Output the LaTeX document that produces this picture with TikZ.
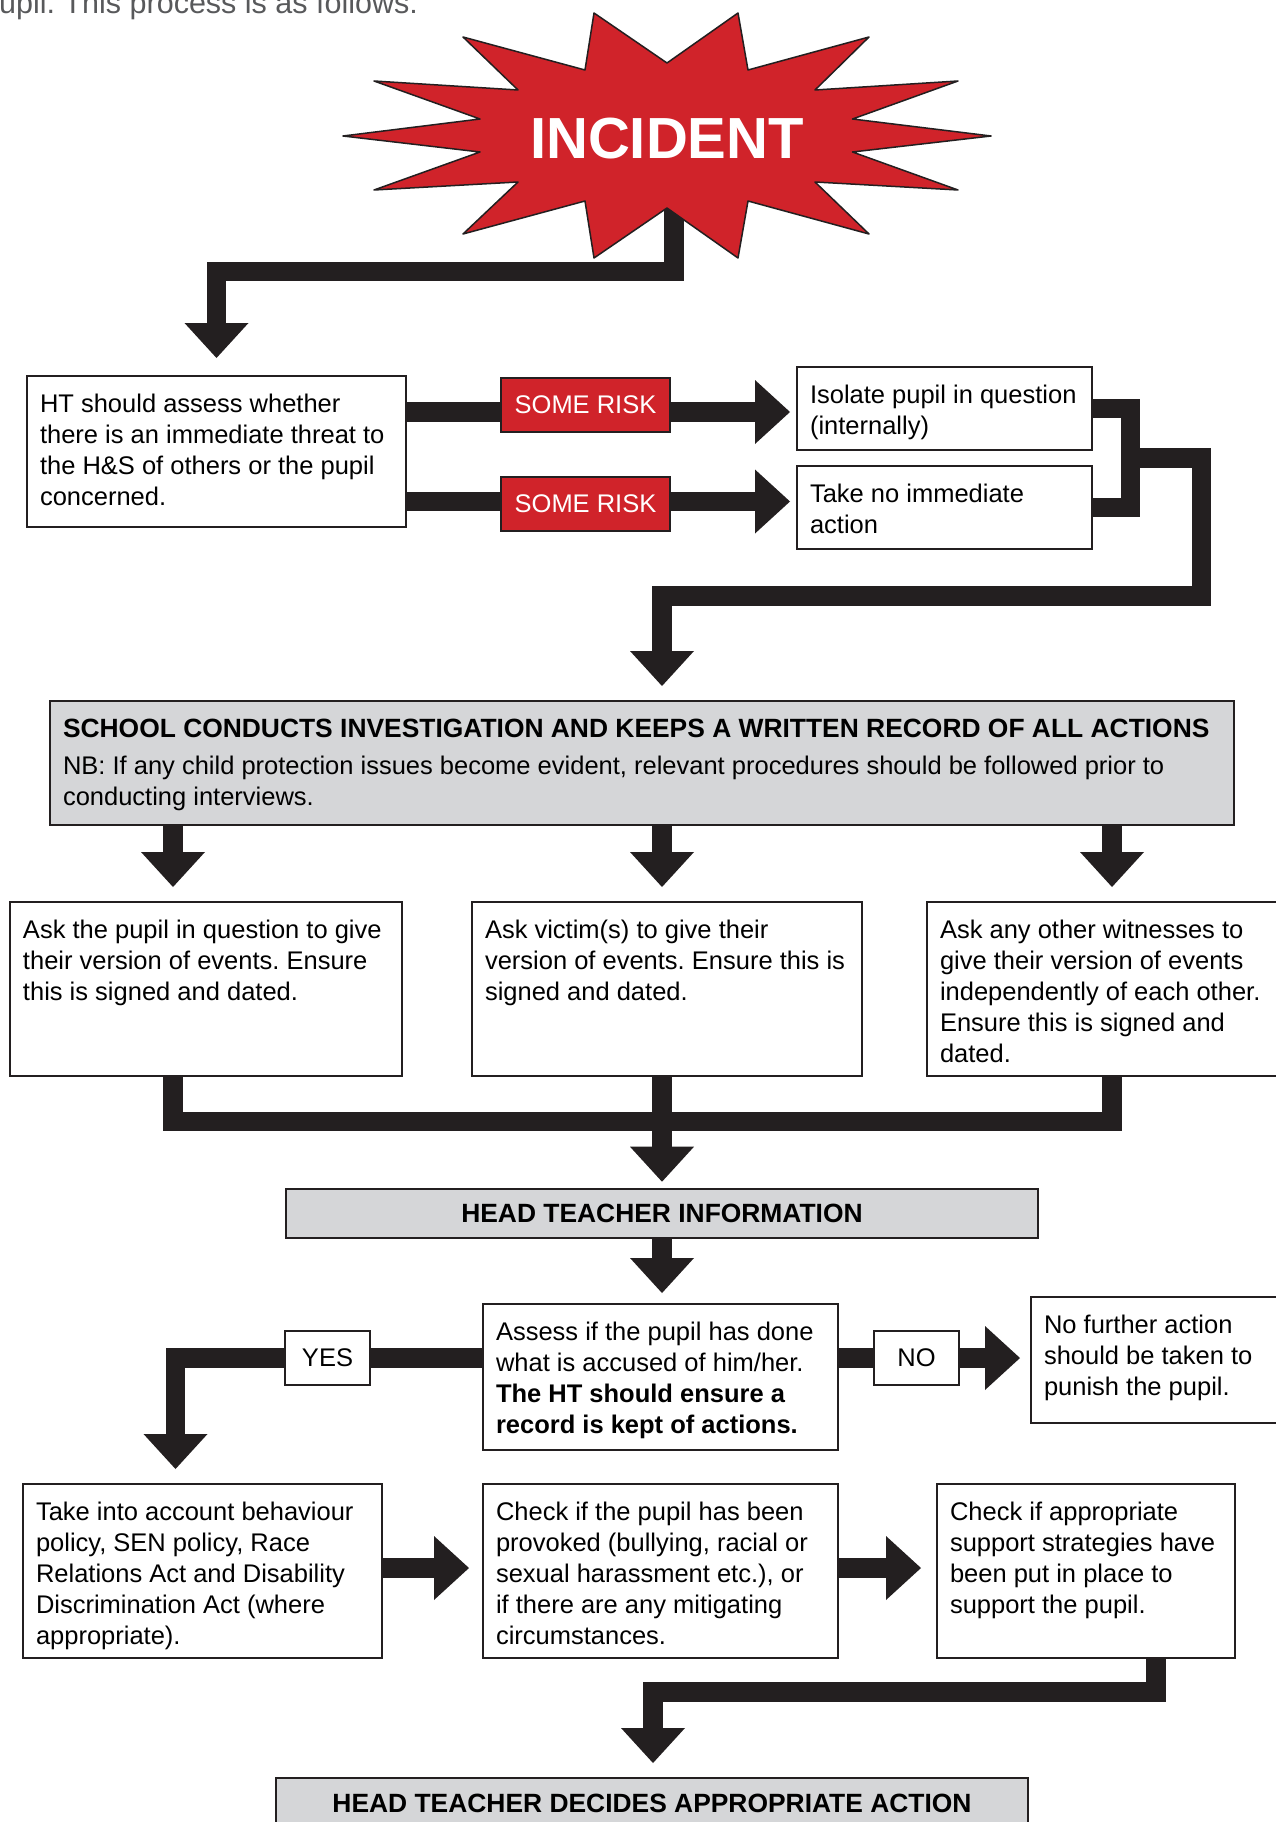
\documentclass[tikz,border=0pt]{standalone}
\usepackage{fontspec}
\setmainfont{Liberation Sans}
\usetikzlibrary{arrows.meta}
\definecolor{dark}{HTML}{231F20}
\definecolor{starred}{HTML}{D0232A}
\definecolor{boxgray}{HTML}{D5D6D8}
\definecolor{txtgray}{HTML}{58595B}
\frenchspacing
\newcommand\bodyfont{\fontsize{25.5pt}{31pt}\selectfont}
\newcommand\headfont{\fontsize{26.4pt}{31pt}\selectfont\bfseries}
\newcommand\flowbox[7][]{%
  \node[bx,#1] (#2) at (#3,#4) {\parbox[t][\dimexpr #6pt-#4pt\relax][t]{\dimexpr #5pt-#3pt-26pt\relax}{\bodyfont\vspace*{14.3pt}\begin{tabular}[t]{@{}l@{}}#7\end{tabular}}};}
\begin{document}
\begin{tikzpicture}[x=1pt,y=-1pt,
  bx/.style={draw=dark, line width=2.4pt, fill=white, inner xsep=13pt, inner ysep=0pt, outer sep=0pt, anchor=north west},
  riskbox/.style={draw=dark, line width=2.4pt, fill=starred, text=white, minimum width=169pt, minimum height=54pt, inner sep=0pt, outer sep=0pt, font=\bodyfont},
  smallbox/.style={draw=dark, line width=2.4pt, fill=white, minimum width=85pt, minimum height=54pt, inner sep=0pt, outer sep=0pt, font=\bodyfont},
  graybox/.style={draw=dark, line width=2.4pt, fill=boxgray, minimum width=752pt, inner sep=0pt, outer sep=0pt, font=\headfont},
  bar/.style={draw=dark, line width=19.5pt, line join=miter},
  arr/.style={bar, -{Triangle[length=35pt,width=64pt,line width=0pt]}}]
\useasboundingbox (0,0) rectangle (1275,1822);

% intro text (cut off at the top, as in the source page)
\node[anchor=base west, text=txtgray, font=\fontsize{30.5pt}{36pt}\selectfont, inner sep=0pt] (intro) at (-1,14) {upil. This process is as follows:};

% boxes
\flowbox{ht}{27}{376}{406}{527}{HT should assess whether\\there is an immediate threat to\\the H\&S of others or the pupil\\concerned.}
\node[riskbox] (sr1) at (585.5,405) {SOME RISK};
\node[riskbox] (sr2) at (585.5,504) {SOME RISK};
\flowbox{iso}{797}{367}{1092}{450}{Isolate pupil in question\\(internally)}
\flowbox{take}{797}{466}{1092}{549}{Take no immediate\\action}
\flowbox[fill=boxgray]{school}{50}{701}{1234}{825}{{\headfont SCHOOL CONDUCTS INVESTIGATION AND KEEPS A WRITTEN RECORD OF ALL ACTIONS}\\[6pt]NB: If any child protection issues become evident, relevant procedures should be followed prior to\\conducting interviews.}
\flowbox{boxA}{10}{902}{402}{1076}{Ask the pupil in question to give\\their version of events. Ensure\\this is signed and dated.}
\flowbox{boxB}{472}{902}{862}{1076}{Ask victim(s) to give their\\version of events. Ensure this is\\signed and dated.}
\flowbox{boxC}{927}{902}{1290}{1076}{Ask any other witnesses to\\give their version of events\\independently of each other.\\Ensure this is signed and\\dated.}
\node[graybox, minimum height=49pt] (hti) at (662,1213.5) {HEAD TEACHER INFORMATION};
\flowbox{assess}{483}{1304}{838}{1450}{Assess if the pupil has done\\what is accused of him/her.\\\textbf{The HT should ensure a}\\\textbf{record is kept of actions.}}
\node[smallbox] (yes) at (327.5,1358) {YES};
\node[smallbox] (no) at (916.5,1358) {NO};
\flowbox{nf}{1031}{1297}{1290}{1423}{No further action\\should be taken to\\punish the pupil.}
\flowbox{boxD}{23}{1484}{382}{1658}{Take into account behaviour\\policy, SEN policy, Race\\Relations Act and Disability\\Discrimination Act (where\\appropriate).}
\flowbox{boxE}{483}{1484}{838}{1658}{Check if the pupil has been\\provoked (bullying, racial or\\sexual harassment etc.), or\\if there are any mitigating\\circumstances.}
\flowbox{boxF}{937}{1484}{1235}{1658}{Check if appropriate\\support strategies have\\been put in place to\\support the pupil.}
\node[graybox, minimum height=51pt] (htd) at (652,1803.5) {HEAD TEACHER DECIDES APPROPRIATE ACTION};

% helper coordinates
\coordinate (starbot) at (674,200);
\coordinate (j1) at (674,271.3);
\coordinate (ry1) at (0,412);
\coordinate (ry2) at (0,501.5);
\coordinate (brk) at (1130.7,457.8);
\coordinate (br2) at (1201.4,596.2);
\coordinate (xa) at (173,0);
\coordinate (xb) at (662,0);
\coordinate (xc) at (1112,0);
\coordinate (jy) at (0,1121.7);
\coordinate (xd) at (175.5,0);
\coordinate (yr) at (0,1568);
\coordinate (xf) at (1156,0);
\coordinate (kf) at (653,1692);

% connectors
\draw[arr, shorten >=18pt] (starbot) -- (j1) -| (ht.north);
\draw[bar] (ht.east |- ry1) -- (sr1.west |- ry1);
\draw[arr, shorten >=7pt] (sr1.east |- ry1) -- (iso.west |- ry1);
\draw[bar] (ht.east |- ry2) -- (sr2.west |- ry2);
\draw[arr, shorten >=7pt] (sr2.east |- ry2) -- (take.west |- ry2);
\draw[bar] (iso.east) -| (brk) |- (take.east);
\draw[arr, shorten >=15pt] (brk) -| (br2) -| (school.north -| xb);
\draw[arr, shorten >=15pt] (school.south -| xa) -- (boxA.north -| xa);
\draw[arr, shorten >=15pt] (school.south -| xb) -- (boxB.north -| xb);
\draw[arr, shorten >=15pt] (school.south -| xc) -- (boxC.north -| xc);
\draw[bar] (boxA.south -| xa) |- (jy -| xc) -- (boxC.south -| xc);
\draw[arr, shorten >=7.3pt] (boxB.south -| xb) -- (hti.north -| xb);
\draw[arr, shorten >=11pt] (hti.south -| xb) -- (assess.north -| xb);
\draw[bar] (assess.west |- yes) -- (yes.east);
\draw[arr, shorten >=15pt] (yes.west) -| (boxD.north -| xd);
\draw[bar] (assess.east |- no) -- (no.west);
\draw[arr, shorten >=11pt] (no.east) -- (nf.west |- no);
\draw[arr, shorten >=14pt] (boxD.east |- yr) -- (boxE.west |- yr);
\draw[arr, shorten >=16pt] (boxE.east |- yr) -- (boxF.west |- yr);
\draw[arr, shorten >=15pt] (boxF.south -| xf) |- (kf) -- (htd.north -| kf);

% starburst
\filldraw[fill=starred, draw=dark, line width=1.5pt, line join=round]
  (594,13) -- (667,63) -- (738,13) -- (748,70) -- (869,37) -- (815,90) -- (958,81) -- (852.5,119)
  -- (991,136) -- (852.5,152) -- (958,190) -- (815,182) -- (869,234) -- (748,201) -- (738,258)
  -- (667,208) -- (594,258) -- (585,201) -- (463,234) -- (518,182) -- (374,190) -- (480,152)
  -- (343,136) -- (480,119) -- (374,81) -- (518,90) -- (463,37) -- (585,70) -- cycle;
\node[text=white, font=\fontsize{58pt}{60pt}\selectfont\bfseries, inner sep=0pt] (incident) at (667,138.5) {INCIDENT};
\end{tikzpicture}
\end{document}
